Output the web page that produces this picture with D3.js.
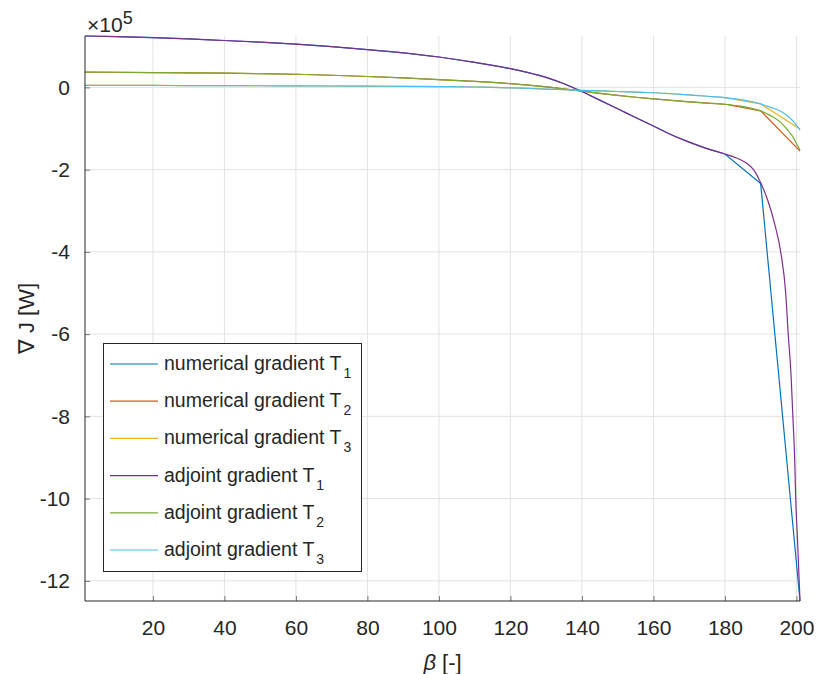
<!DOCTYPE html>
<html>
<head>
<meta charset="utf-8">
<script src="https://cdn.jsdelivr.net/npm/d3@7"></script>
<style>
  body { margin: 0; background: #fff; }
  svg text { font-family: "Liberation Sans", Arial, Helvetica, sans-serif; fill: #262626; }
</style>
</head>
<body>
<svg id="chart" width="817" height="674"></svg>
<script>
// Sensitivity of the objective J with respect to beta, in W.
// Adjoint gradients are smooth; numerical (finite-difference) gradients are
// evaluated on a coarser grid near the upper end.
const betaAdj = [1, 10, 20, 30, 40, 50, 60, 70, 80, 90, 100, 110, 115, 120, 125, 130, 135, 140, 145, 150, 155, 160, 165, 170, 175, 180,
                 183, 186, 188, 190, 192, 194, 195.6, 197, 197.7, 198.5, 199, 199.5, 199.8, 200.3, 201];
const betaNum = [1, 10, 20, 30, 40, 50, 60, 70, 80, 90, 100, 110, 115, 120, 125, 130, 135, 140, 145, 150, 155, 160, 165, 170, 175, 180,
                 190, 201];

const adjT1 = [125000, 123500, 121000, 118000, 114000, 110000, 105000, 99000, 92000, 84000, 74000, 61000, 53500, 45500, 36000, 24500, 9000, -10000, -31000, -52000, -73000, -94000, -115000, -133000, -149000, -162000,
               -171000, -184000, -200000, -232000, -275000, -335000, -400000, -500000, -600000, -700000, -800000, -900000, -1000000, -1100000, -1249000];
const adjT2 = [37000, 36800, 36000, 35500, 34500, 33500, 32000, 29500, 26500, 23000, 19000, 14500, 12000, 9000, 5500, 1500, -3500, -9000, -14500, -19500, -24000, -28000, -31500, -35000, -38000, -41000,
               -44000, -48000, -52000, -57000, -65000, -75000, -85000, -98000, -105000, -114000, -120000, -128000, -133000, -141000, -153000];
const adjT3 = [5000, 4900, 4700, 4500, 4300, 4000, 3800, 3400, 3000, 2500, 2000, 1000, 0, -1000, -2500, -4000, -5500, -7000, -8500, -10000, -11500, -13000, -15500, -18000, -21500, -25000,
               -28000, -32000, -36000, -40000, -46000, -52000, -58000, -66000, -71000, -77000, -81000, -86000, -90000, -95000, -104000];

const numT1 = [125000, 123500, 121000, 118000, 114000, 110000, 105000, 99000, 92000, 84000, 74000, 61000, 53500, 45500, 36000, 24500, 9000, -10000, -31000, -52000, -73000, -94000, -115000, -133000, -149000, -162000,
               -234000, -1249000];
const numT2 = [37000, 36800, 36000, 35500, 34500, 33500, 32000, 29500, 26500, 23000, 19000, 14500, 12000, 9000, 5500, 1500, -3500, -9000, -14500, -19500, -24000, -28000, -31500, -35000, -38000, -41000,
               -57000, -155000];
const numT3 = [5000, 4900, 4700, 4500, 4300, 4000, 3800, 3400, 3000, 2500, 2000, 1000, 0, -1000, -2500, -4000, -5500, -7000, -8500, -10000, -11500, -13000, -15500, -18000, -21500, -25000,
               -40000, -101000];

const xTicks = [20, 40, 60, 80, 100, 120, 140, 160, 180, 200];
const yTicks = [-1200000, -1000000, -800000, -600000, -400000, -200000, 0];
const yExponent = 5;

const seriesNames = ["numerical gradient", "numerical gradient", "numerical gradient",
                     "adjoint gradient", "adjoint gradient", "adjoint gradient"];
const seriesSubs = ["1", "2", "3", "1", "2", "3"];
const seriesColors = ["#0072BD", "#D95319", "#EDB120", "#7E2F8E", "#77AC30", "#4DBEEE"];

const series = [
  { x: betaNum, y: numT1, curve: d3.curveLinear },
  { x: betaNum, y: numT2, curve: d3.curveLinear },
  { x: betaNum, y: numT3, curve: d3.curveLinear },
  { x: betaAdj, y: adjT1, curve: d3.curveMonotoneX },
  { x: betaAdj, y: adjT2, curve: d3.curveMonotoneX },
  { x: betaAdj, y: adjT3, curve: d3.curveMonotoneX }
].map((s, i) => ({ ...s, name: seriesNames[i], sub: seriesSubs[i], color: seriesColors[i] }));

const svg = d3.select("#chart");
const plot = { left: 85, right: 800, top: 36, bottom: 601 };
const ink = "#262626";

const allY = series.flatMap(s => s.y);
const x = d3.scaleLinear().domain([1, 201]).range([plot.left, plot.right]);
const y = d3.scaleLinear().domain([d3.min(allY), d3.max(allY)]).range([plot.bottom, plot.top]);
const factor = Math.pow(10, yExponent);

// grid
const grid = svg.append("g").attr("stroke", "#e2e2e2").attr("stroke-width", 1);
grid.selectAll("line.vx").data(xTicks).join("line")
  .attr("x1", d => x(d)).attr("x2", d => x(d))
  .attr("y1", plot.top).attr("y2", plot.bottom);
grid.selectAll("line.hy").data(yTicks).join("line")
  .attr("x1", plot.left).attr("x2", plot.right)
  .attr("y1", d => y(d)).attr("y2", d => y(d));

// curves
const lines = svg.append("g").attr("fill", "none").attr("stroke-width", 1.2);
series.forEach(s => {
  const pts = s.x.map((b, i) => [b, s.y[i]]);
  lines.append("path")
    .attr("d", d3.line().x(d => x(d[0])).y(d => y(d[1])).curve(s.curve)(pts))
    .attr("stroke", s.color);
});

// axes (inward ticks, no box)
const xAxis = d3.axisBottom(x).tickValues(xTicks).tickSize(-5).tickPadding(19).tickFormat(d3.format("d"));
const gx = svg.append("g").attr("transform", `translate(0,${plot.bottom})`).call(xAxis);
const yAxis = d3.axisLeft(y).tickValues(yTicks).tickSize(-5).tickPadding(15)
  .tickFormat(d => d3.format("d")(Math.round(d / factor)).replace("−", "-"));
const gy = svg.append("g").attr("transform", `translate(${plot.left},0)`).call(yAxis);
[gx, gy].forEach(g => {
  g.select(".domain").attr("stroke", ink).attr("stroke-width", 1);
  g.selectAll(".tick line").attr("stroke", ink).attr("stroke-opacity", 0.6);
  g.selectAll(".tick text").attr("fill", ink).style("font-size", "21px")
    .style("font-family", "'Liberation Sans', Arial, sans-serif");
});
gx.select(".domain").attr("d", `M${plot.left},0H${plot.right}`);
gy.select(".domain").attr("d", `M0,${plot.bottom}V${plot.top}`);

// exponent label
const ex = svg.append("text").attr("x", plot.left + 2).attr("y", 32).style("font-size", "21px");
ex.append("tspan").text("\u00d710");
ex.append("tspan").attr("dy", -8).style("font-size", "18px").text(yExponent);

// axis titles
const xt = svg.append("text").attr("x", (plot.left + plot.right) / 2).attr("y", 670)
  .attr("text-anchor", "middle").style("font-size", "22px");
xt.append("tspan").style("font-style", "italic").text("\u03b2");
xt.append("tspan").text(" [-]");

svg.append("text")
  .attr("transform", `translate(34,${(plot.top + plot.bottom) / 2}) rotate(-90)`)
  .attr("text-anchor", "middle").style("font-size", "22px")
  .text("\u2207 J [W]");

// legend
const lg = { x: 103, y: 343, w: 258, h: 228, row: 37.2, first: 364 };
const legend = svg.append("g");
legend.append("rect").attr("x", lg.x + 0.5).attr("y", lg.y + 0.5).attr("width", lg.w).attr("height", lg.h)
  .attr("fill", "#fff").attr("stroke", ink).attr("stroke-width", 1);
series.forEach((s, i) => {
  const ry = lg.first + i * lg.row;
  legend.append("line").attr("x1", 110).attr("x2", 158).attr("y1", ry).attr("y2", ry)
    .attr("stroke", s.color).attr("stroke-width", 1.2);
  const t = legend.append("text").attr("x", 164).attr("y", ry + 6).style("font-size", "19.5px");
  t.append("tspan").text(s.name + " T");
  t.append("tspan").attr("dx", 2).attr("dy", 8).style("font-size", "14px").text(s.sub);
});
</script>
</body>
</html>
